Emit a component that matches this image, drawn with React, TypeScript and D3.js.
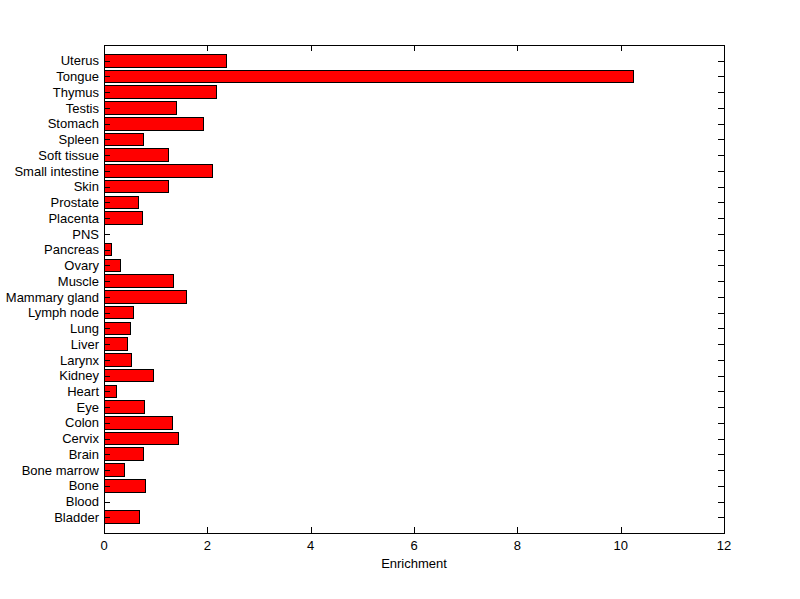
import React from "react";
import * as d3 from "d3";

const categories = [
  "Bladder", "Blood", "Bone", "Bone marrow", "Brain", "Cervix", "Colon", "Eye",
  "Heart", "Kidney", "Larynx", "Liver", "Lung", "Lymph node", "Mammary gland",
  "Muscle", "Ovary", "Pancreas", "PNS", "Placenta", "Prostate", "Skin",
  "Small intestine", "Soft tissue", "Spleen", "Stomach", "Testis", "Thymus",
  "Tongue", "Uterus",
];
const values = [
  0.68, 0, 0.81, 0.39, 0.76, 1.45, 1.33, 0.78,
  0.24, 0.96, 0.54, 0.46, 0.52, 0.57, 1.60,
  1.35, 0.32, 0.14, 0, 0.75, 0.66, 1.24,
  2.10, 1.24, 0.76, 1.92, 1.40, 2.18,
  10.24, 2.37,
];
const xTicks = [0, 2, 4, 6, 8, 10, 12];
const xLabel = "Enrichment";

export default function App() {
  const W = 800, H = 599;
  const left = 104, right = 724, top = 45, bottom = 533;
  const x = d3.scaleLinear().domain([0, 12]).range([left, right]);
  const y = d3.scaleLinear().domain([0, categories.length + 1]).range([bottom, top]);
  const bw = 0.8;
  const tl = 6;
  const font = "Arial, 'Liberation Sans', Helvetica, sans-serif";
  return (
    <svg width={W} height={H} style={{ position: "absolute", left: 0, top: 0, background: "#fff" }}>
      <rect x={0} y={0} width={W} height={H} fill="#fff" />
      {categories.map((c, i) => {
        const v = values[i];
        const y0 = y(i + 1 + bw / 2);
        const y1 = y(i + 1 - bw / 2);
        return v > 0 ? (
          <rect key={c} x={x(0)} y={y0} width={x(v) - x(0)} height={y1 - y0}
            fill="#ff0000" stroke="#000" strokeWidth={1} shapeRendering="crispEdges" />
        ) : null;
      })}
      <g stroke="#000" strokeWidth={1} shapeRendering="crispEdges">
        {categories.map((c, i) => (
          <g key={c}>
            <line x1={left} x2={left + tl} y1={Math.round(y(i + 1)) + 0.5} y2={Math.round(y(i + 1)) + 0.5} />
            <line x1={right} x2={right - tl} y1={Math.round(y(i + 1)) + 0.5} y2={Math.round(y(i + 1)) + 0.5} />
          </g>
        ))}
        {xTicks.map((t) => (
          <g key={t}>
            <line x1={Math.round(x(t)) + 0.5} x2={Math.round(x(t)) + 0.5} y1={bottom} y2={bottom - tl} />
            <line x1={Math.round(x(t)) + 0.5} x2={Math.round(x(t)) + 0.5} y1={top} y2={top + tl} />
          </g>
        ))}
        <rect x={left + 0.5} y={top + 0.5} width={right - left} height={bottom - top} fill="none" />
      </g>
      <g fontFamily={font} fontSize={13} fill="#000">
        {categories.map((c, i) => (
          <text key={c} x={left - 5} y={y(i + 1)} dy="0.36em" textAnchor="end">{c}</text>
        ))}
        {xTicks.map((t) => (
          <text key={t} x={x(t)} y={550} textAnchor="middle">{t}</text>
        ))}
        <text x={(left + right) / 2} y={568} textAnchor="middle">{xLabel}</text>
      </g>
    </svg>
  );
}
